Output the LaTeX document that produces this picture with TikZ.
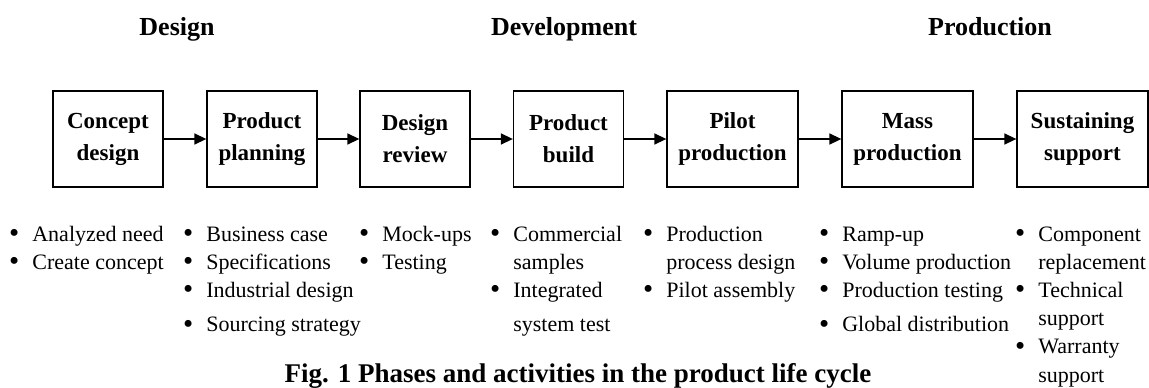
\documentclass[tikz,border=0pt]{standalone}
\usepackage{fontspec}
\setmainfont{Liberation Serif}
\usetikzlibrary{arrows.meta}
\tikzstyle{stage}=[draw, line width=1.3pt, minimum height=96pt, inner sep=0, align=center, font=\fontsize{23}{32}\selectfont\bfseries]
\tikzstyle{narrow stage}=[stage, minimum width=110pt]
\tikzstyle{wide stage}=[stage, minimum width=131pt]
\tikzstyle{phase}=[anchor=base, font=\fontsize{26}{30}\selectfont\bfseries]
\tikzstyle{activities}=[anchor=base west, inner sep=0, font=\fontsize{22}{28.2}\selectfont]
\tikzstyle{flow}=[line width=1.5pt, -{Triangle[length=12pt, width=11pt]}]
\newcommand{\actlist}[1]{\begin{tabular}[t]{@{}c@{\hspace{13pt}}l@{}}#1\end{tabular}}
\newcommand{\bul}{\raisebox{-1.5pt}{\fontsize{29}{28.2}\selectfont\textbullet}}

\begin{document}
\begin{tikzpicture}[x=1pt, y=-1pt]
      \useasboundingbox (0, 0) rectangle (1149, 388);

      \node[phase] (design) at (177, 35) {Design};
      \node[phase] (development) at (564, 35) {Development};
      \node[phase] (production) at (990, 35) {Production};

      \node[narrow stage] (concept) at (108, 139) {Concept\\design};
      \node[narrow stage] (planning) at (262, 139) {Product\\planning};
      \node[narrow stage] (review) at (415, 139) {Design\\review};
      \node[narrow stage] (build) at (568.5, 139) {Product\\build};
      \node[wide stage] (pilot) at (732.5, 139) {Pilot\\production};
      \node[wide stage] (mass) at (907.5, 139) {Mass\\production};
      \node[wide stage] (sustain) at (1082.5, 139) {Sustaining\\support};

      \draw[flow] (concept) -- (planning);
      \draw[flow] (planning) -- (review);
      \draw[flow] (review) -- (build);
      \draw[flow] (build) -- (pilot);
      \draw[flow] (pilot) -- (mass);
      \draw[flow] (mass) -- (sustain);

      \node[activities] (concept_list) at (9, 241) {\actlist{
        \bul & Analyzed need\\
        \bul & Create concept}};
      \node[activities] (planning_list) at (183, 241) {\actlist{
        \bul & Business case\\
        \bul & Specifications\\
        \bul & Industrial design\\[6pt]
        \bul & Sourcing strategy}};
      \node[activities] (review_list) at (359, 241) {\actlist{
        \bul & Mock-ups\\
        \bul & Testing}};
      \node[activities] (build_list) at (490, 241) {\actlist{
        \bul & Commercial\\
             & samples\\
        \bul & Integrated\\[6pt]
             & system test}};
      \node[activities] (pilot_list) at (643, 241) {\actlist{
        \bul & Production\\
             & process design\\
        \bul & Pilot assembly}};
      \node[activities] (mass_list) at (819, 241) {\actlist{
        \bul & Ramp-up\\
        \bul & Volume production\\
        \bul & Production testing\\[6pt]
        \bul & Global distribution}};
      \node[activities] (sustain_list) at (1015, 241) {\actlist{
        \bul & Component\\
             & replacement\\
        \bul & Technical\\
             & support\\
        \bul & Warranty\\
             & support}};

      \node[anchor=base, font=\fontsize{27}{30}\selectfont\bfseries] (caption) at (578, 382)
        {Fig. 1 Phases and activities in the product life cycle};
    \end{tikzpicture}
\end{document}
